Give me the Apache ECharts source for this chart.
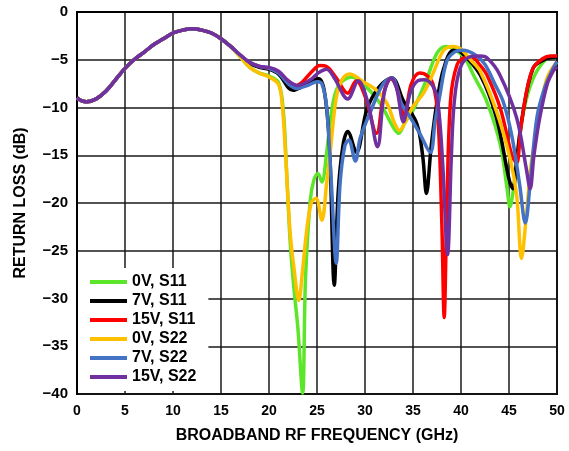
<!DOCTYPE html>
<html>
<head>
<meta charset="utf-8">
<script src="https://cdn.jsdelivr.net/npm/echarts@6/dist/echarts.min.js"></script>
<style>
html,body{margin:0;padding:0;background:#fff;}
#chart{width:569px;height:451px;}
</style>
</head>
<body>
<div id="chart"></div>
<script>
// Shared low-frequency part (all six traces overlap here) [GHz, dB]
const commonStart = [[0,-9.0],[0.5,-9.3],[1,-9.4],[2,-9.1],[3,-8.3],[4,-7.1],[5,-5.9],[6,-4.95],[7,-4.2],[8,-3.4],[9,-2.8],[10,-2.2],[11,-1.9],[12,-1.75],[13,-1.9],[14,-2.2],[15,-2.8],[16,-3.6]];

const s11_0V = [[17,-4.7],[18,-5.8],[19,-6.4],[20,-6.7],[21,-7.4],[21.5,-10.5],[21.8,-16],[22.2,-24],[22.6,-29],[23.0,-33],[23.5,-39.9],[23.8,-28],[24.3,-19.7],[24.7,-17.5],[25.1,-16.9],[25.5,-17.8],[26.0,-14.8],[26.5,-10.5],[27.2,-7.8],[28.6,-6.8],[29.8,-7.5],[31.6,-9.6],[32.9,-12.0],[33.5,-12.7],[34.2,-11.5],[35.0,-10.3],[36.4,-7.1],[37.5,-4.3],[38.4,-3.6],[39.5,-4.0],[40.5,-5.0],[41.3,-6.6],[42.7,-9.4],[44.1,-13.9],[44.8,-18.5],[45.1,-20.4],[45.4,-19],[45.8,-15.8],[46.5,-10.5],[47.5,-7.0],[48.9,-4.9],[50,-4.6]];

const s11_7V = [[17,-4.6],[18,-5.4],[19,-5.8],[20,-6.0],[21,-6.5],[22.5,-8.2],[23.5,-7.8],[24.5,-7.2],[25.2,-7.0],[25.8,-8.5],[26.3,-14],[26.8,-28.6],[27.2,-19],[27.7,-14],[28.2,-12.5],[29.1,-14.7],[30.2,-10.2],[31.5,-7.8],[32.8,-6.9],[34.0,-9.3],[35.4,-11.7],[36.0,-15],[36.4,-19.0],[36.9,-14],[37.5,-9.4],[38.2,-5.9],[39.2,-4.0],[40.0,-4.2],[42.0,-6.6],[43.7,-11.1],[45.0,-17.5],[45.4,-18.5],[45.8,-15.5],[46.3,-11.5],[47.5,-5.9],[48.9,-4.9],[50,-4.7]];

const s11_15V = [[17,-4.5],[18,-5.3],[19,-5.7],[20,-5.9],[21,-6.3],[22,-7.2],[22.8,-7.7],[23.5,-7.3],[24.5,-6.2],[25.3,-5.6],[26.0,-5.7],[27.0,-6.9],[28.2,-8.5],[29.1,-7.2],[30.0,-8.8],[31.2,-12.7],[32.0,-8.3],[32.7,-7.0],[33.4,-8.2],[34.1,-11.0],[34.8,-7.6],[35.7,-6.4],[36.5,-6.7],[37.1,-7.6],[37.6,-11],[38.0,-22],[38.25,-32],[38.5,-22],[38.9,-9.4],[39.6,-5.5],[40.5,-4.8],[41.2,-4.8],[42.0,-5.6],[42.7,-6.6],[44.1,-10.1],[45.3,-15],[45.8,-15.8],[46.2,-12.4],[46.8,-8.5],[47.5,-5.9],[48.5,-4.9],[49.3,-4.6],[50,-4.6]];

const s22_0V = [[17,-4.7],[18,-5.8],[19,-6.4],[20,-6.8],[21,-7.6],[21.4,-10],[21.7,-14.5],[22.2,-23.1],[22.6,-26.8],[23.1,-30.2],[23.5,-27],[23.9,-23.1],[24.4,-20.0],[24.9,-19.5],[25.5,-21.8],[26.0,-18],[26.4,-14.4],[27.0,-9.0],[27.6,-7.1],[28.4,-6.5],[29.8,-7.3],[31.2,-8.2],[32.3,-9.6],[33.1,-11.7],[33.6,-12.4],[34.2,-11.5],[35.0,-9.9],[36.1,-8.5],[37.1,-6.4],[38.2,-4.0],[39.2,-3.6],[40.0,-3.9],[41.0,-5.0],[42.0,-6.2],[43.7,-10.4],[45.1,-15.3],[45.8,-19.2],[46.3,-25.8],[46.8,-21.4],[47.3,-16],[47.9,-12.4],[48.9,-7.1],[50,-5.2]];

const s22_7V = [[17,-4.5],[18,-5.3],[19,-5.7],[20,-5.9],[21,-6.4],[22,-7.5],[22.9,-8.0],[24.0,-7.7],[25.0,-7.3],[25.5,-7.5],[26.0,-9.9],[26.5,-18],[27.0,-26.3],[27.4,-18],[27.9,-14],[28.3,-13.4],[29.0,-15.6],[29.5,-13.2],[30.5,-10.6],[31.9,-7.5],[32.8,-6.9],[33.8,-9.6],[34.7,-11.0],[35.7,-12.7],[36.8,-14.7],[37.3,-11.5],[37.8,-8.7],[38.5,-5.2],[39.3,-4.2],[40.2,-4.0],[41.5,-4.5],[42.5,-5.5],[43.5,-7.5],[44.4,-9.4],[45.3,-13],[46.1,-18],[46.7,-22.1],[47.2,-18],[47.9,-11.1],[48.7,-8.0],[49.6,-5.9],[50,-5.2]];

const s22_15V = [[17,-4.5],[18,-5.3],[19,-5.7],[20,-5.8],[21,-6.2],[22,-7.2],[23.0,-7.7],[24.3,-7.1],[25.1,-6.4],[26.0,-6.0],[26.8,-6.9],[28.2,-9.1],[29.3,-7.2],[30.3,-9.5],[31.3,-14.1],[32.0,-8.5],[32.7,-6.9],[33.3,-8.0],[34.0,-11.5],[34.7,-8.5],[35.5,-7.2],[36.2,-7.1],[37.1,-7.8],[37.6,-9.5],[38.1,-16],[38.6,-25.4],[39.0,-15],[39.3,-9.4],[39.9,-5.9],[40.9,-4.7],[42.0,-4.6],[42.7,-4.8],[44.0,-6.5],[45.8,-11.1],[46.8,-16.4],[47.2,-18.5],[47.6,-15],[48.2,-11.1],[49.0,-7.5],[49.6,-6.2],[50,-5.7]];

const seriesNames = ['0V, S11','7V, S11','15V, S11','0V, S22','7V, S22','15V, S22'];
const seriesColors = ['#5CE62A','#000000','#FF0000','#FFC000','#4472C4','#7030A0'];
const seriesData = [s11_0V, s11_7V, s11_15V, s22_0V, s22_7V, s22_15V];

const xTicks = {min:0, max:50, interval:5};
const yTicks = {min:-40, max:0, interval:5};

const chart = echarts.init(document.getElementById('chart'));
const font = '"Liberation Sans", Arial, sans-serif';
const minus = v => String(v).replace('-', '\u2212');

chart.setOption({
  animation:false,
  backgroundColor:'#fff',
  grid:{left:77,right:12,top:12,bottom:57,show:true,borderColor:'#000',borderWidth:2,backgroundColor:'transparent'},
  legend:{
    orient:'vertical', left:78, top:268,
    padding:[6,12,6,12], itemGap:3, itemWidth:37, itemHeight:4,
    backgroundColor:'#fff', icon:'rect',
    textStyle:{fontFamily:font,fontWeight:'bold',fontSize:16,color:'#000',lineHeight:16},
    data:seriesNames
  },
  xAxis:{
    type:'value', min:xTicks.min, max:xTicks.max, interval:xTicks.interval,
    name:'BROADBAND RF FREQUENCY (GHz)', nameLocation:'middle', nameGap:34,
    nameTextStyle:{fontFamily:font,fontWeight:'bold',fontSize:16,color:'#000'},
    axisLine:{show:true,lineStyle:{color:'#000',width:2}},
    axisTick:{show:false},
    axisLabel:{fontFamily:font,fontWeight:'bold',fontSize:14,color:'#000',margin:10},
    splitLine:{show:true,lineStyle:{color:'#1a1a1a',width:1.5}}
  },
  yAxis:{
    type:'value', min:yTicks.min, max:yTicks.max, interval:yTicks.interval,
    name:'RETURN LOSS (dB)', nameLocation:'middle', nameGap:48, nameRotate:90,
    nameTextStyle:{fontFamily:font,fontWeight:'bold',fontSize:16,color:'#000'},
    axisLine:{show:true,lineStyle:{color:'#000',width:2}},
    axisTick:{show:false},
    axisLabel:{fontFamily:font,fontWeight:'bold',fontSize:15,color:'#000',margin:9,formatter:minus},
    splitLine:{show:true,lineStyle:{color:'#1a1a1a',width:1.5}}
  },
  series: seriesNames.map((n,i)=>({
    name:n, type:'line', data: commonStart.concat(seriesData[i]),
    smooth:0.35, showSymbol:false, symbol:'none', clip:true,
    lineStyle:{color:seriesColors[i],width:3.5},
    itemStyle:{color:seriesColors[i]},
    z: 2+i
  }))
});
</script>
</body>
</html>
